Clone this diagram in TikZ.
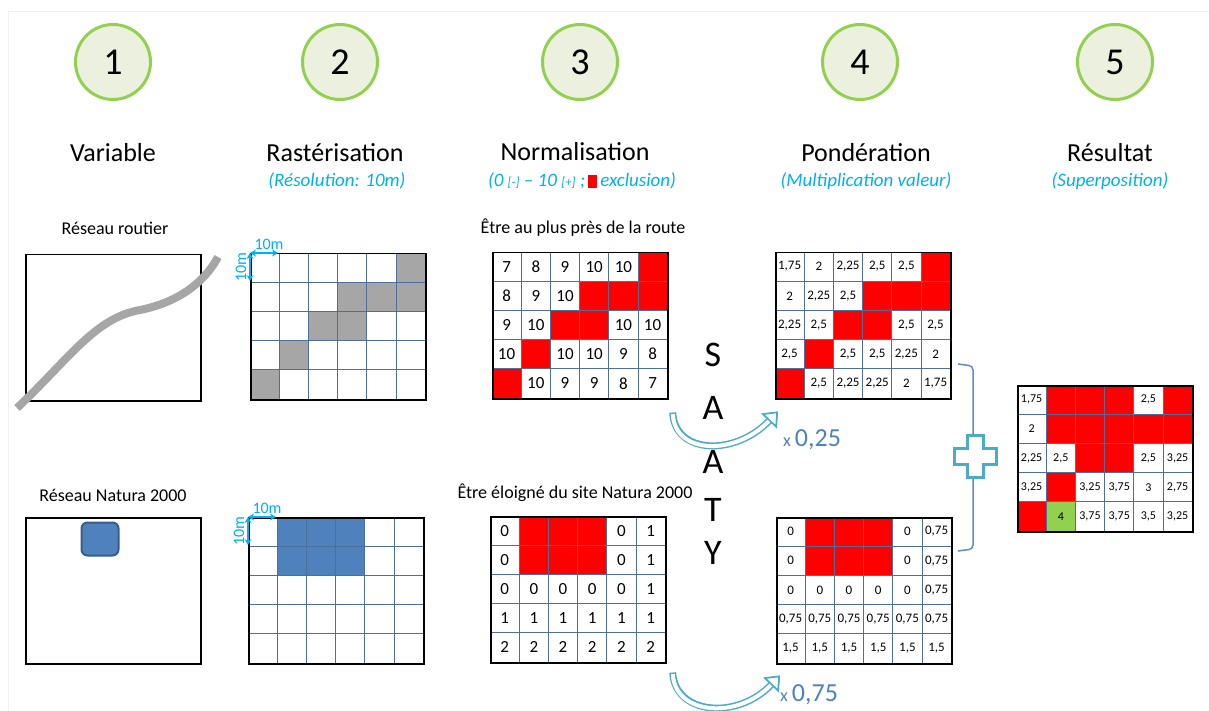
\documentclass[tikz,border=0pt]{standalone}
\usepackage{fontspec}
\setmainfont{Carlito}
\usepackage{tikz}
\usetikzlibrary{arrows.meta, calc}

\definecolor{vertclair}{HTML}{92D050}
\definecolor{fondetape}{HTML}{EBF1DE}
\definecolor{ciel}{HTML}{00B0F0}
\definecolor{grisroute}{HTML}{A6A6A6}
\definecolor{bleunat}{HTML}{4F81BD}
\definecolor{bleubord}{HTML}{385D8A}
\definecolor{trait}{HTML}{4E6E9E}
\definecolor{turquoise}{HTML}{4BACC6}
\definecolor{bleuacc}{HTML}{5E8CCB}
\colorlet{W}{white}
\colorlet{G}{grisroute}
\colorlet{N}{bleunat}
\definecolor{R}{HTML}{FF0000}
\colorlet{V}{vertclair}

\tikzstyle{etape} = [circle, draw=vertclair, line width=3pt, fill=fondetape, minimum size=75pt, inner sep=0pt, font=\fontsize{38}{38}\selectfont]
\tikzstyle{titre} = [font=\fontsize{26}{26}\selectfont]
\tikzstyle{soustitre} = [text=ciel, font=\fontsize{19}{19}\selectfont\itshape]
\tikzstyle{legende} = [font=\fontsize{18}{18}\selectfont]
\tikzstyle{boite} = [rectangle, draw, line width=1.5pt, anchor=north west, minimum width=175pt, minimum height=146pt, inner sep=0pt]
\tikzstyle{cadre} = [rectangle, draw, line width=1.5pt, anchor=north west, minimum width=175.2pt, minimum height=146pt, inner sep=0pt]
\tikzstyle{cellule} = [rectangle, draw=trait, line width=0.7pt, minimum width=29.2pt, minimum height=29.2pt, inner sep=0pt]
\tikzstyle{valn} = [font=\fontsize{17}{17}\selectfont]
\tikzstyle{valp} = [font=\fontsize{13}{13}\selectfont]
\tikzstyle{valr} = [font=\fontsize{12}{12}\selectfont]
\tikzstyle{mesure} = [draw=ciel, line width=1.6pt, {Stealth[length=6pt,width=7pt]}-{Stealth[length=6pt,width=7pt]}]
\tikzstyle{cote} = [text=ciel, font=\fontsize{16}{16}\selectfont, inner sep=1pt]
\tikzstyle{route} = [draw=grisroute, line width=8pt]
\tikzstyle{site} = [rectangle, rounded corners=6pt, draw=bleubord, line width=2pt, fill=bleunat, minimum width=37pt, minimum height=33pt]
\tikzstyle{saaty} = [font=\fontsize{36}{36}\selectfont]
\tikzstyle{bande} = [draw=turquoise, line width=7pt, -{Triangle[length=13pt, width=21pt, color=turquoise, fill=white, line width=1.6pt]}]
\tikzstyle{creux} = [draw=white, line width=4pt, shorten <=1.6pt, -{Triangle[length=13pt, width=21pt, color=turquoise, fill=white, line width=1.6pt]}]
\tikzstyle{facteur} = [text=bleunat]
\tikzstyle{accolade} = [draw=bleuacc, line width=1.5pt, rounded corners=4pt]
\tikzstyle{plus} = [draw=turquoise, line width=3pt, fill=white]

% grille 6 x 5 : nom, coin haut gauche, style des valeurs, cellules couleur/valeur
\newcommand{\grille}[4]{%
  \foreach \coul/\val [count=\i from 0] in {#4} {
    \pgfmathtruncatemacro\col{mod(\i,6)}
    \pgfmathtruncatemacro\lig{div(\i,6)}
    \node[cellule, #3, fill=\coul] at ($(#2)+(\col*29.2+14.6,\lig*29.2+14.6)$) {\val};
  }
  \node[cadre] (#1) at (#2) {};
}

\begin{document}
\begin{tikzpicture}[x=1pt, y=-1pt]
    \useasboundingbox (0,0) rectangle (1209,711);
    \draw[gray!12] (1209,11) -- (8,11) -- (8,711);
    % Place nodes
    \node[etape] (e1) at (113,62) {1};
    \node[etape] (e2) at (340,62) {2};
    \node[etape] (e3) at (580,62) {3};
    \node[etape] (e4) at (860,62) {4};
    \node[etape] (e5) at (1115,62) {5};
    \node[titre, below of=e1, node distance=91pt] (t1) {Variable};
    \node[titre, below of=e2, node distance=91pt, xshift=-5pt] (t2) {Rastérisation};
    \node[titre, below of=e3, node distance=90pt, xshift=-5pt] (t3) {Normalisation};
    \node[titre, below of=e4, node distance=91pt, xshift=6pt] (t4) {Pondération};
    \node[titre, below of=e5, node distance=91pt, xshift=-5pt] (t5) {Résultat};
    \node[soustitre, below of=t2, node distance=28pt, xshift=2pt] (s2) {(Résolution: 10m)};
    \node[soustitre, below of=t3, node distance=29pt, xshift=7pt] (s3) {(0 {\fontsize{13}{13}\selectfont[-]} – 10 {\fontsize{13}{13}\selectfont[+]} ;\,\textcolor{R}{\rule[-1pt]{9pt}{13pt}}\,exclusion)};
    \node[soustitre, below of=t4, node distance=28pt] (s4) {(Multiplication valeur)};
    \node[soustitre, below of=t5, node distance=28pt] (s5) {(Superposition)};

    \node[legende] (l1) at (115,228) {Réseau routier};
    \node[legende] (l2) at (113,495) {Réseau Natura 2000};
    \node[legende] (l3) at (583,228) {Être au plus près de la route};
    \node[legende] (l4) at (575,493) {Être éloigné du site Natura 2000};

    \node[boite] (var1) at (25,254) {};
    \draw[route] (17,408) .. controls (70,358) and (95,318) .. (140,310) .. controls (175,303) and (203,285) .. (218,257);
    \node[boite] (var2) at (25,517) {};
    \node[site] (site) at (100,539) {};

    \grille{rast1}{250,253}{valn}{W/{},W/{},W/{},W/{},W/{},G/{},
      W/{},W/{},W/{},G/{},G/{},G/{},
      W/{},W/{},G/{},G/{},W/{},W/{},
      W/{},G/{},W/{},W/{},W/{},W/{},
      G/{},W/{},W/{},W/{},W/{},W/{}}
    \grille{rast2}{248,517}{valn}{W/{},N/{},N/{},N/{},W/{},W/{},
      W/{},N/{},N/{},N/{},W/{},W/{},
      W/{},W/{},W/{},W/{},W/{},W/{},
      W/{},W/{},W/{},W/{},W/{},W/{},
      W/{},W/{},W/{},W/{},W/{},W/{}}
    \draw[mesure] (rast1.north west) -- ($(rast1.north west)+(28,0)$) node[cote, midway, above=2pt, xshift=5pt] {10m};
    \draw[mesure] (rast1.north west) -- ($(rast1.north west)+(0,28)$) node[cote, midway, rotate=90, above=2pt] {10m};
    \draw[mesure] (rast2.north west) -- ($(rast2.north west)+(28,0)$) node[cote, midway, above=2pt, xshift=5pt] {10m};
    \draw[mesure] (rast2.north west) -- ($(rast2.north west)+(0,28)$) node[cote, midway, rotate=90, above=2pt] {10m};

    \grille{norm1}{492,252}{valn}{W/7,W/8,W/9,W/10,W/10,R/{},
      W/8,W/9,W/10,R/{},R/{},R/{},
      W/9,W/10,R/{},R/{},W/10,W/10,
      W/10,R/{},W/10,W/10,W/9,W/8,
      R/{},W/10,W/9,W/9,W/8,W/7}
    \grille{norm2}{490,516}{valn}{W/0,R/{},R/{},R/{},W/0,W/1,
      W/0,R/{},R/{},R/{},W/0,W/1,
      W/0,W/0,W/0,W/0,W/0,W/1,
      W/1,W/1,W/1,W/1,W/1,W/1,
      W/2,W/2,W/2,W/2,W/2,W/2}

    \foreach \l/\y [count=\i] in {S/355, A/408, A/462, T/510, Y/553}
        \node[saaty] (saaty\i) at (713,\y) {\l};

    \grille{pond1}{775,252}{valp}{W/{1,75},W/2,W/{2,25},W/{2,5},W/{2,5},R/{},
      W/2,W/{2,25},W/{2,5},R/{},R/{},R/{},
      W/{2,25},W/{2,5},R/{},R/{},W/{2,5},W/{2,5},
      W/{2,5},R/{},W/{2,5},W/{2,5},W/{2,25},W/2,
      R/{},W/{2,5},W/{2,25},W/{2,25},W/2,W/{1,75}}
    \grille{pond2}{776,517}{valp}{W/0,R/{},R/{},R/{},W/0,W/{0,75},
      W/0,R/{},R/{},R/{},W/0,W/{0,75},
      W/0,W/0,W/0,W/0,W/0,W/{0,75},
      W/{0,75},W/{0,75},W/{0,75},W/{0,75},W/{0,75},W/{0,75},
      W/{1,5},W/{1,5},W/{1,5},W/{1,5},W/{1,5},W/{1,5}}
    \grille{res}{1017,385}{valr}{W/{1,75},R/{},R/{},R/{},W/{2,5},R/{},
      W/2,R/{},R/{},R/{},R/{},R/{},
      W/{2,25},W/{2,5},R/{},R/{},W/{2,5},W/{3,25},
      W/{3,25},R/{},W/{3,25},W/{3,75},W/3,W/{2,75},
      R/{},V/4,W/{3,75},W/{3,75},W/{3,5},W/{3,25}}

    \coordinate (d1) at ($(norm1.south east)+(4,13)$);
    \coordinate (a1) at ($(pond1.south west)+(3,12)$);
    \coordinate (d2) at ($(norm2.south east)+(6,9)$);
    \coordinate (a2) at ($(pond2.south west)+(4,11)$);
    \node[facteur] (f1) at ($(pond1.south west)+(37,40)$) {\fontsize{18}{18}\selectfont x \fontsize{26}{26}\selectfont 0,25};
    \node[facteur] (f2) at ($(pond2.south west)+(33,30)$) {\fontsize{18}{18}\selectfont x \fontsize{26}{26}\selectfont 0,75};
    % Draw edges
    \draw[bande] (d1) .. controls +(2,42) and +(-43,45) .. (a1);
    \draw[creux] (d1) .. controls +(2,42) and +(-43,45) .. (a1);
    \draw[bande] (d2) .. controls +(2,42) and +(-43,45) .. (a2);
    \draw[creux] (d2) .. controls +(2,42) and +(-43,45) .. (a2);

    \draw[accolade] (958,364) -- (973,366) -- (973,549) -- (958,551);
    \draw[plus] (967,435) -- (983,435) -- (983,448) -- (996,448) -- (996,464) -- (983,464) -- (983,477) -- (967,477) -- (967,464) -- (954,464) -- (954,448) -- (967,448) -- cycle;
\end{tikzpicture}
\end{document}
